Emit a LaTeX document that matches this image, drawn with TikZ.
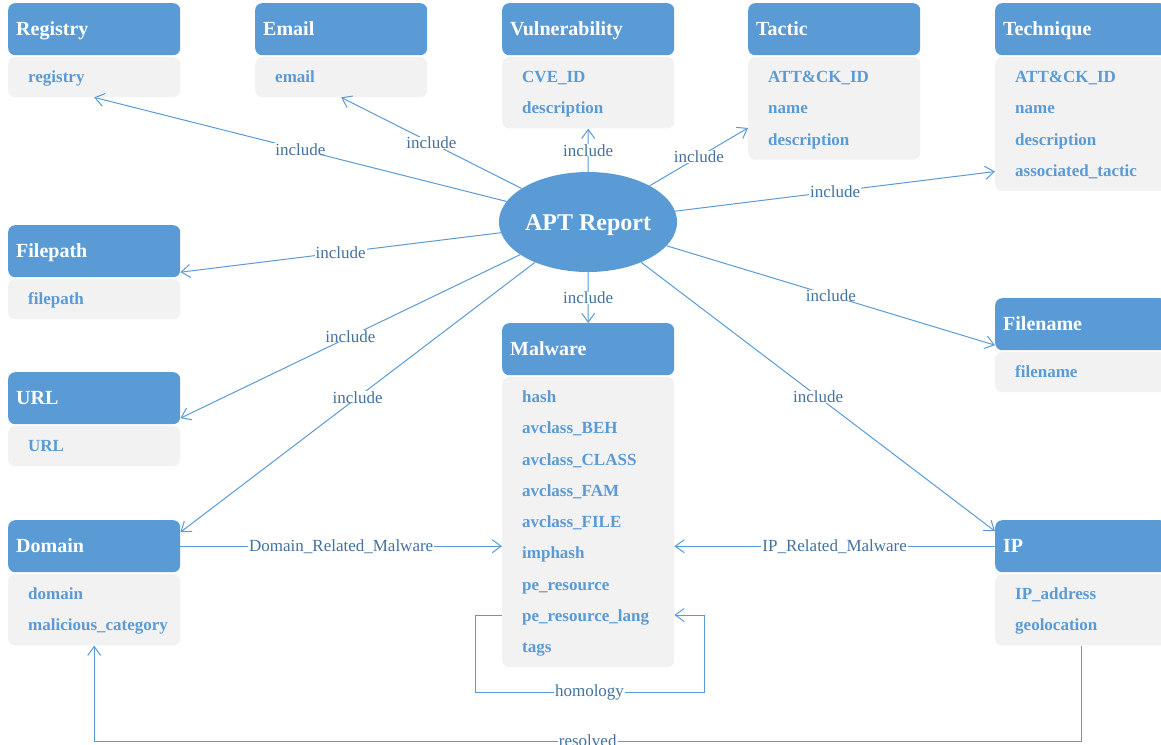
\documentclass[tikz,border=0pt]{standalone}
\usepackage{fontspec}
\setmainfont{Liberation Serif}
\usetikzlibrary{arrows.meta,shapes.geometric,calc}
\definecolor{hblue}{HTML}{5B9BD5}
\definecolor{bgray}{HTML}{F2F2F2}
\definecolor{ltxt}{HTML}{44729E}
\tikzset{
 hdr/.style={fill=hblue, rounded corners=7pt, minimum height=52pt, minimum width=172pt, inner sep=0pt},
 ttl/.style={text=white, font=\fontsize{20}{24}\selectfont\bfseries, inner sep=0pt, anchor=base west},
 bodybox/.style={fill=bgray, rounded corners=7pt, minimum width=172pt, inner sep=0pt},
 field/.style={text=hblue, font=\fontsize{17}{20}\selectfont\bfseries, inner sep=0pt, anchor=base west},
 conn/.style={draw=hblue, line width=1pt, -{Straight Barb[length=9pt,width=13pt]}},
 lbl/.style={fill=white, text=ltxt, font=\fontsize{17}{20}\selectfont, inner xsep=1pt, inner ysep=0pt},
}
\newcommand\entity[6]{%
 \node[hdr, anchor=north west] (#1) at ({#2},{#3}) {};
 \node[ttl] (#1t) at ({#2+8},{#3+32}) {#4};
 \node[bodybox, anchor=north west, minimum height={40+(#5-1)*31.25}] (#1b) at ({#2},{#3+54}) {};
 \foreach \f [count=\i] in {#6} \node[field] (#1f\i) at ({#2+20},{#3+79.5+(\i-1)*31.25}) {\f};
}
\begin{document}
\begin{tikzpicture}[x=1pt,y=-1pt]
\useasboundingbox (0,0) rectangle (1161,744);
\fill[white] (0,0) rectangle (1161,744);

\entity{reg}{8}{3}{Registry}{1}{registry}
\entity{eml}{255}{3}{Email}{1}{email}
\entity{vul}{502}{3}{Vulnerability}{2}{CVE\_ID,description}
\entity{tac}{748}{3}{Tactic}{3}{ATT\&CK\_ID,name,description}
\entity{tec}{995}{3}{Technique}{4}{ATT\&CK\_ID,name,description,associated\_tactic}
\entity{fp}{8}{225}{Filepath}{1}{filepath}
\entity{url}{8}{372}{URL}{1}{URL}
\entity{dom}{8}{520}{Domain}{2}{domain,malicious\_category}
\entity{fn}{995}{298}{Filename}{1}{filename}
\entity{ip}{995}{520}{IP}{2}{IP\_address,geolocation}
\entity{mal}{502}{323}{Malware}{9}{hash,avclass\_BEH,avclass\_CLASS,avclass\_FAM,avclass\_FILE,imphash,pe\_resource,pe\_resource\_lang,tags}

\node[ellipse, fill=hblue, minimum width=174pt, minimum height=100pt, inner sep=0pt, text height=16pt, text depth=0pt, text=white, font=\fontsize{24}{28}\selectfont\bfseries] (apt) at (588,222) {APT Report};

\draw[conn] (apt) -- node[lbl]{include} (regb.south);
\draw[conn] (apt) -- node[lbl]{include} (emlb.south);
\draw[conn] (apt) -- node[lbl]{include} (vulb.south);
\draw[conn] (apt) -- node[lbl]{include} ([yshift=-19.5pt]tacb.west);
\draw[conn] (apt) -- node[lbl]{include} (tecb.west |- tecf4);
\draw[conn] (apt) -- node[lbl]{include} ([yshift=-21pt]fp.east);
\draw[conn] (apt) -- node[lbl]{include} ([yshift=-20pt]url.east);
\draw[conn] (apt) -- node[lbl]{include} ([yshift=14pt]dom.east);
\draw[conn] (apt) -- node[lbl]{include} (mal.north);
\draw[conn] (apt) -- node[lbl]{include} ([yshift=-21pt]fn.west);
\draw[conn] (apt) -- node[lbl]{include} ([yshift=15pt]ip.west);

\draw[conn] (dom.east) -- node[lbl]{Domain\_Related\_Malware} (dom.east -| malb.west);
\draw[conn] (ip.west) -- node[lbl]{IP\_Related\_Malware} (ip.west -| malb.east);

\coordinate (h0) at (502,615);
\coordinate (h1) at (475,615);
\coordinate (h2) at (704,692);
\draw[conn] (h0) -- (h1) -- (h1 |- h2) -- node[lbl]{homology} (h2) -- (h2 |- h0) -- (malb.east |- h0);

\coordinate (r1) at (1081,741);
\draw[conn] (ipb.south) -- (ipb.south |- r1) -- node[lbl]{resolved} (domb.south |- r1) -- (domb.south);
\end{tikzpicture}
\end{document}
